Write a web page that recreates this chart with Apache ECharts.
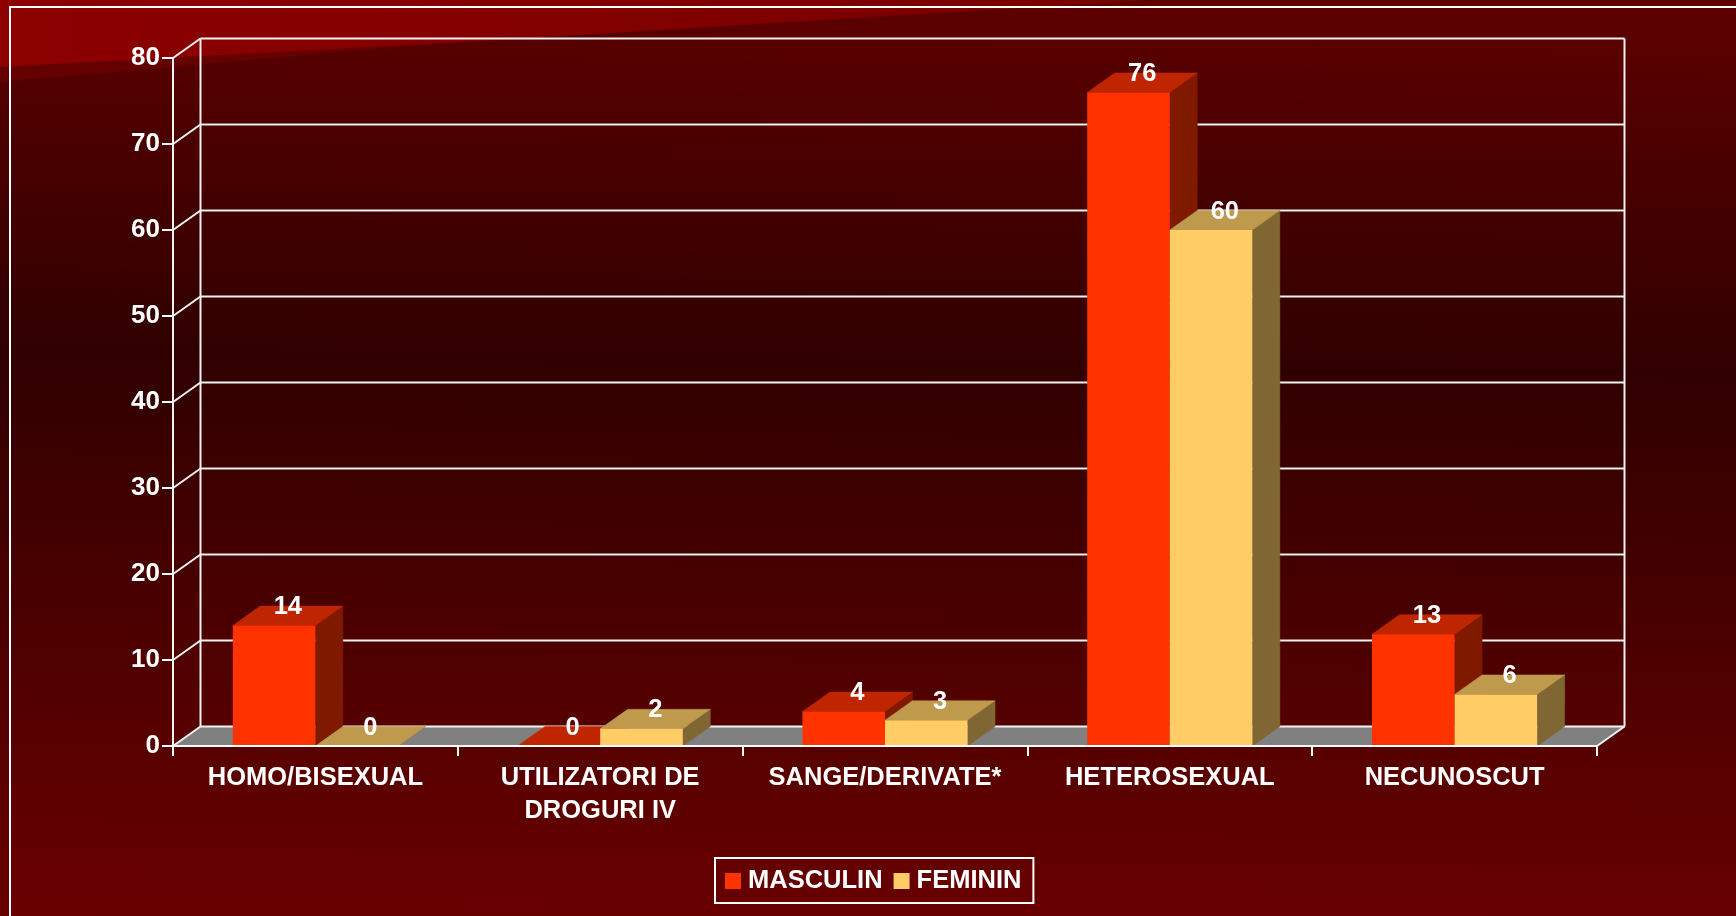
<!DOCTYPE html>
<html>
<head>
	<meta charset="utf-8"/>
	<title>MASCULIN / FEMININ</title>
	<style>
		html, body { margin: 0; padding: 0; background: #300000; }
		#chart { width: 1736px; height: 916px; }
	</style>
</head>
<body>
	<div id="chart"></div>

	<script src="https://cdn.jsdelivr.net/npm/echarts@6/dist/echarts.min.js"></script>
	<script>
		var categories = ['HOMO/BISEXUAL', 'UTILIZATORI DE\nDROGURI IV', 'SANGE/DERIVATE*', 'HETEROSEXUAL', 'NECUNOSCUT'];
		var masculin = [14, 0, 4, 76, 13];
		var feminin = [0, 2, 3, 60, 6];
		var yTicks = [0, 10, 20, 30, 40, 50, 60, 70, 80];

		var FONT = '"Liberation Sans", Arial, sans-serif';
		var FONT_SIZE = 25.5;
		// fake 3D: how far the back wall sits from the front plane
		var DEPTH_X = 27.5;
		var DEPTH_Y = 19.5;
		var BAR_RATIO = 0.29;

		function poly(points, fill, z2) {
			return {
				type: 'polygon',
				shape: { points: points },
				style: { fill: fill, stroke: fill, lineWidth: 0.5 },
				z2: z2 || 0
			};
		}

		function line(x1, y1, x2, y2) {
			return {
				type: 'line',
				shape: { x1: x1, y1: y1, x2: x2, y2: y2 },
				style: { stroke: '#f2f2f2', lineWidth: 2 }
			};
		}

		// floor, back wall lines and the slanted lines on the left wall
		function renderWall(params, api) {
			var value = api.value(1);
			var cs = params.coordSys;
			var y = api.coord([0, value])[1];
			var left = cs.x, right = cs.x + cs.width;
			var bottom = cs.y + cs.height;
			var children = [
				line(left, y, left + DEPTH_X, y - DEPTH_Y),
				line(left + DEPTH_X, y - DEPTH_Y, right + DEPTH_X, y - DEPTH_Y)
			];
			if (value === 0) {
				children.unshift(poly([
					[left, bottom], [left + DEPTH_X, bottom - DEPTH_Y],
					[right + DEPTH_X, bottom - DEPTH_Y], [right, bottom]
				], '#808080'));
				children.push(line(left, cs.y, left, bottom));
				children.push(line(left + DEPTH_X, cs.y - DEPTH_Y, left + DEPTH_X, bottom - DEPTH_Y));
				children.push(line(right + DEPTH_X, cs.y - DEPTH_Y, right + DEPTH_X, bottom - DEPTH_Y));
				children.push(line(right, bottom, right + DEPTH_X, bottom - DEPTH_Y));
			}
			return { type: 'group', children: children };
		}

		// side: -1 bar left of the category centre, 0 bar right of it
		function barRenderer(side, front, topColor, sideColor) {
			return function (params, api) {
				var value = api.value(1);
				var top = api.coord([api.value(0), value]);
				var base = api.coord([api.value(0), 0]);
				var w = api.size([1, 0])[0] * BAR_RATIO;
				var x0 = top[0] + side * w;
				var x1 = x0 + w;
				return {
					type: 'group',
					children: [
						poly([[x1, top[1]], [x1 + DEPTH_X, top[1] - DEPTH_Y], [x1 + DEPTH_X, base[1] - DEPTH_Y], [x1, base[1]]], sideColor),
						poly([[x0, top[1]], [x0 + DEPTH_X, top[1] - DEPTH_Y], [x1 + DEPTH_X, top[1] - DEPTH_Y], [x1, top[1]]], topColor),
						{
							type: 'rect',
							shape: { x: x0, y: top[1], width: w, height: base[1] - top[1] },
							style: { fill: front }
						},
						{
							type: 'text',
							x: (x0 + x1 + DEPTH_X) / 2,
							y: top[1] - DEPTH_Y + 1,
							z2: 10,
							style: {
								text: String(value),
								fill: '#fff',
								fontFamily: FONT,
								fontSize: FONT_SIZE,
								fontWeight: 'bold',
								align: 'center',
								verticalAlign: 'middle'
							}
						}
					]
				};
			};
		}

		function pairs(list) {
			return list.map(function (v, i) { return [i, v]; });
		}

		var backgroundFill = new echarts.graphic.LinearGradient(1, -60, -13, 920, [
			{ offset: 0, color: '#630000' },
			{ offset: 0.418, color: '#300000' },
			{ offset: 1, color: '#6a0000' }
		], true);

		var redBand = new echarts.graphic.LinearGradient(0, 0, 1150, 0, [
			{ offset: 0, color: '#8c0000' },
			{ offset: 1, color: '#780000' }
		], true);

		var option = {
			animation: false,
			graphic: [
				{ type: 'rect', z: -3, silent: true, shape: { x: 0, y: 0, width: 1736, height: 916 }, style: { fill: backgroundFill } },
				{ type: 'polygon', z: -2, silent: true, shape: { points: [[0, 67], [480, 40], [0, 82]] }, style: { fill: '#640000' } },
				{ type: 'polygon', z: -2, silent: true, shape: { points: [[0, 0], [1150, 0], [480, 41], [0, 67]] }, style: { fill: redBand } },
				{ type: 'polyline', z: -1, silent: true, shape: { points: [[10, 916], [10, 7], [1736, 7]] }, style: { fill: 'none', stroke: '#fff', lineWidth: 2 } }
			],
			grid: { left: 173, top: 58, width: 1424, height: 688 },
			legend: {
				data: ['MASCULIN', 'FEMININ'],
				left: 715,
				top: 858,
				padding: [10, 12, 9, 10],
				itemWidth: 16,
				itemHeight: 16,
				itemGap: 11,
				icon: 'rect',
				borderColor: '#fff',
				borderWidth: 2,
				borderRadius: 0,
				textStyle: { color: '#fff', fontFamily: FONT, fontSize: FONT_SIZE, fontWeight: 'bold', padding: [0, 0, 0, 2] }
			},
			xAxis: {
				type: 'category',
				data: categories,
				z: 5,
				axisLine: { lineStyle: { color: '#fff', width: 2 } },
				axisTick: { show: true, length: 10, lineStyle: { color: '#fff', width: 2 } },
				axisLabel: {
					color: '#fff',
					fontFamily: FONT,
					fontSize: FONT_SIZE,
					fontWeight: 'bold',
					lineHeight: 33,
					margin: 15.5,
					interval: 0
				}
			},
			yAxis: {
				type: 'value',
				min: 0,
				max: 80,
				interval: 10,
				splitLine: { show: false },
				axisLine: { show: false },
				axisTick: { show: true, length: 11, lineStyle: { color: '#fff', width: 2 } },
				axisLabel: {
					color: '#fff',
					fontFamily: FONT,
					fontSize: 26,
					fontWeight: 'bold',
					padding: [3, 0, 0, 0],
					margin: 13
				}
			},
			series: [
				{
					name: 'wall',
					type: 'custom',
					z: 1,
					silent: true,
					data: yTicks.map(function (v) { return [0, v]; }),
					renderItem: renderWall
				},
				{
					name: 'MASCULIN',
					type: 'custom',
					z: 2,
					itemStyle: { color: '#ff3300' },
					data: pairs(masculin),
					renderItem: barRenderer(-1, '#ff3300', '#bf2600', '#7f1900')
				},
				{
					name: 'FEMININ',
					type: 'custom',
					z: 3,
					itemStyle: { color: '#ffcc66' },
					data: pairs(feminin),
					renderItem: barRenderer(0, '#ffcc66', '#bf994c', '#7f6633')
				}
			]
		};

		var myChart = echarts.init(document.getElementById('chart'));
		myChart.setOption(option);
	</script>
</body>
</html>
